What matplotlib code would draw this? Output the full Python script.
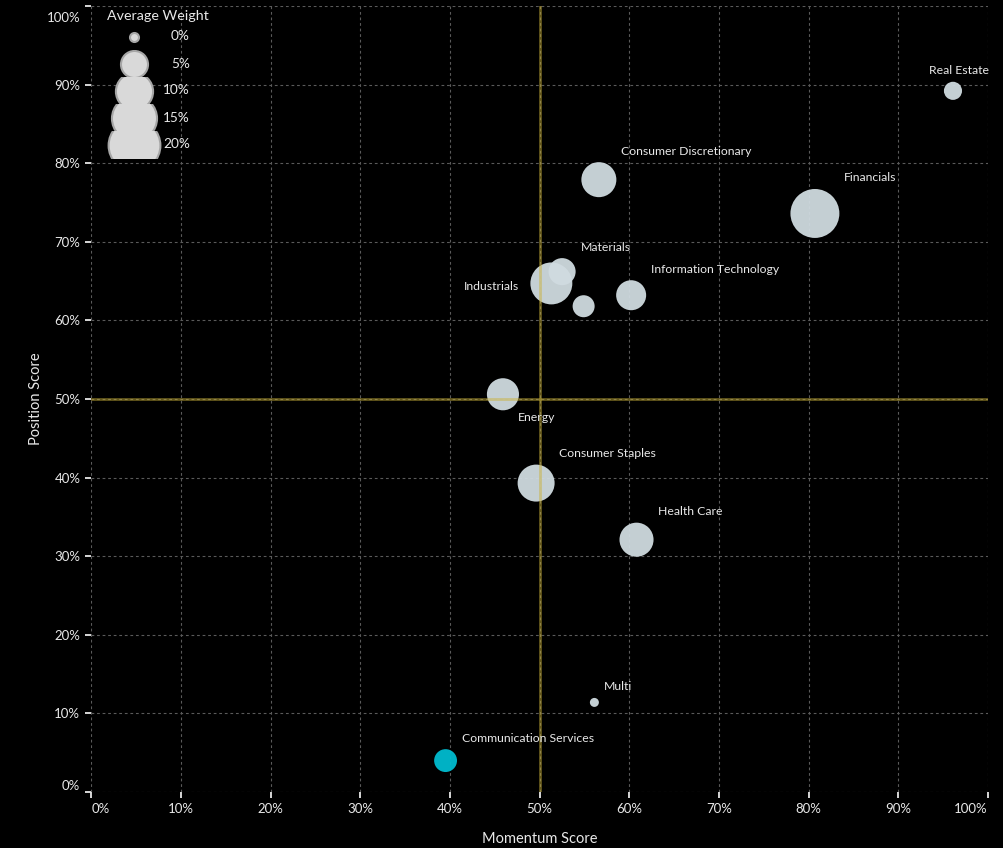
#!/usr/bin/env python3
"""Sector momentum vs position bubble chart (bubble area = average weight)."""
import matplotlib
matplotlib.use("Agg")
import matplotlib.pyplot as plt
import matplotlib.transforms as mtransforms
import numpy as np
from matplotlib.patches import Rectangle

# data (percent)
sectors = [
    "Real Estate", "Financials", "Consumer Discretionary", "Materials",
    "Industrials", "", "Information Technology", "Energy",
    "Consumer Staples", "Health Care", "Multi", "Communication Services",
]
momentum = [96.1, 80.7, 56.6, 52.5, 51.3, 54.9, 60.2, 45.9, 49.6, 60.8, 56.1, 39.5]
position = [89.2, 73.6, 77.9, 66.2, 64.7, 61.8, 63.2, 50.6, 39.3, 32.1, 11.4, 4.0]
weight = [1.9, 17.8, 8.8, 5.0, 12.9, 3.1, 6.3, 7.3, 9.9, 8.3, 0.0, 3.4]
highlight = [False] * 11 + [True]
label_pos = ["ur", "ur", "ur", "ur", "l", "ur", "ur", "lr", "ur", "ur", "ur", "ur"]

legend_weights = [0, 5, 10, 15, 20]
ticks = list(range(0, 101, 10))

BG = "black"
FG = "#e8e8e8"
BUBBLE = "#d0dbe0"
HILITE = "#00bcd0"
QUAD = "#c9b037"

plt.rcParams["font.family"] = ["Lato", "DejaVu Sans"]


def bubble_size(w):
    # marker area in pt^2, area grows linearly with weight
    return 42 + 67.4 * np.asarray(w, dtype=float)


fig = plt.figure(figsize=(10.04, 8.48), dpi=100, facecolor=BG)
ax = fig.add_axes([0.0911, 0.066, 0.8929, 0.927])
ax.set_facecolor(BG)

sizes = bubble_size(weight)
colors = [HILITE if h else BUBBLE for h in highlight]
ax.scatter(momentum, position, s=sizes, c=colors, alpha=0.95, linewidths=0, zorder=3)

# quadrant lines at 50/50
ax.axvline(50, color=QUAD, lw=2, alpha=0.5, zorder=4)
ax.axhline(50, color=QUAD, lw=2, alpha=0.5, zorder=4)

for name, x, y, s, pos in zip(sectors, momentum, position, sizes, label_pos):
    if not name:
        continue
    r = np.sqrt(s) / 2
    if pos == "ur":
        off, ha = (r + 3.5, r + 8), "left"
    elif pos == "lr":
        off, ha = (r * 0.5 + 5, -r - 5), "left"
    else:
        off, ha = (-r - 8, -2), "right"
    if name == "Real Estate":
        off, ha = (4, r + 8), "center"
    ax.annotate(name, (x, y), xytext=off, textcoords="offset points",
                ha=ha, va="center", color=FG, fontsize=8.8, zorder=5)

ax.set_xlim(0, 100)
ax.set_ylim(0, 100)
ax.set_xticks(ticks)
ax.set_yticks(ticks)
ax.set_xticklabels([f"{t}%" for t in ticks])
ax.set_yticklabels([f"{t}%" for t in ticks])
ax.tick_params(colors=FG, labelsize=9.5, length=4.5, width=1.3, direction="out")
# edge labels pushed inside like the original renderer does
xl = ax.get_xticklabels()
xl[0].set_ha("left")
xl[-1].set_ha("right")
yl = ax.get_yticklabels()
yl[0].set_va("bottom")
yl[-1].set_transform(yl[-1].get_transform()
                     + mtransforms.ScaledTranslation(0, -11 / 100, fig.dpi_scale_trans))
for sp in ax.spines.values():
    sp.set_visible(False)
ax.grid(True, color="#5a5a5a", lw=0.8, ls=(0, (2.5, 2.5)))
ax.set_axisbelow(True)
ax.set_xlabel("Momentum Score", color=FG, fontsize=10.5, labelpad=12)
ax.set_ylabel("Position Score", color=FG, fontsize=10.5, labelpad=3)

# size legend drawn on a pixel-space overlay, each row clipped to its slot
leg = fig.add_axes([0, 0, 1, 1], zorder=10)
leg.set_xlim(0, 1004)
leg.set_ylim(848, 0)
leg.axis("off")
leg.patch.set_alpha(0)
leg.text(158, 16, "Average Weight", color=FG, fontsize=10.3, ha="center", va="center")
row_h = 27
for i, w in enumerate(legend_weights):
    yy = 36.5 + row_h * i
    sc = leg.scatter([134], [yy], s=bubble_size(w), color="#d9d9d9", edgecolors="#a6a6a6",
                     linewidths=1.5, zorder=10 + i)
    clip = Rectangle((90, yy - row_h / 2), 80, row_h, transform=leg.transData)
    sc.set_clip_path(clip)
    leg.text(190, yy, f"{w}%", color=FG, fontsize=9.8, ha="right", va="center")

fig.savefig("out.png", dpi=100, facecolor=BG)
